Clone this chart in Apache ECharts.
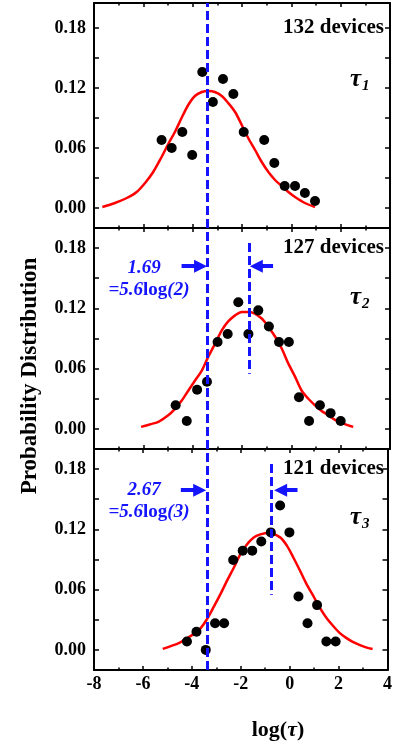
<!DOCTYPE html>
<html><head><meta charset="utf-8">
<script src="https://cdn.jsdelivr.net/npm/echarts@6/dist/echarts.min.js"></script>
<style>html,body{margin:0;padding:0;background:#fff}#c{width:395px;height:742px}</style>
</head><body><div id="c"></div>
<script>
// ---- data ----
const xTickValues = [-8, -6, -4, -2, 0, 2, 4];
const yTickValues = [0, 0.06, 0.12, 0.18];
const yAllTicks = [0, 0.03, 0.06, 0.09, 0.12, 0.15, 0.18];
const deviceLabels = ['132 devices', '127 devices', '121 devices'];
const tauSubs = ['1', '2', '3'];

// panel 1 (tau1) measured distribution
const p1X = [-5.26,-4.85,-4.42,-4.02,-3.61,-3.18,-2.77,-2.35,-1.93,-1.10,-0.69,-0.27,0.15,0.55,0.96];
const p1Y = [0.068,0.060,0.076,0.053,0.136,0.106,0.129,0.114,0.076,0.068,0.045,0.022,0.022,0.015,0.007];
const c1X = [-7.66,-7.15,-6.67,-6.27,-5.93,-5.60,-5.26,-4.99,-4.72,-4.45,-4.18,-3.91,-3.63,-3.37,-3.10,-2.82,-2.56,-2.28,-2.01,-1.75,-1.47,-1.20,-0.93,-0.66,-0.39,-0.12,0.15,0.55,0.96];
const c1Y = [0.001,0.005,0.010,0.016,0.025,0.036,0.051,0.064,0.076,0.090,0.103,0.112,0.116,0.117,0.116,0.112,0.105,0.096,0.083,0.070,0.058,0.046,0.036,0.028,0.022,0.016,0.011,0.005,0.001];

// panel 2 (tau2)
const p2X = [-4.69,-4.24,-3.82,-3.42,-2.99,-2.58,-2.15,-1.74,-1.34,-0.91,-0.50,-0.10,0.31,0.72,1.16,1.59,2.00];
const p2Y = [0.0236,0.0079,0.039,0.047,0.0866,0.0945,0.126,0.0945,0.118,0.102,0.0866,0.0866,0.0315,0.0079,0.0236,0.0157,0.0079];
const c2X = [-6.09,-5.66,-5.39,-4.99,-4.72,-4.45,-4.18,-3.91,-3.63,-3.37,-3.09,-2.82,-2.56,-2.28,-2.01,-1.68,-1.20,-0.93,-0.66,-0.39,-0.12,0.15,0.42,0.69,0.96,1.23,1.50,1.77,2.04,2.31,2.51];
const c2Y = [0.002,0.005,0.007,0.0135,0.020,0.028,0.038,0.048,0.058,0.0717,0.085,0.098,0.107,0.113,0.1165,0.1165,0.110,0.1015,0.092,0.080,0.065,0.052,0.038,0.030,0.0235,0.0178,0.0135,0.009,0.006,0.0035,0.002];

// panel 3 (tau3)
const p3X = [-4.20,-3.81,-3.43,-3.05,-2.68,-2.31,-1.92,-1.53,-1.16,-0.77,-0.39,-0.01,0.36,0.73,1.12,1.50,1.88];
const p3Y = [0.0083,0.018,0.0,0.0266,0.0266,0.0895,0.0988,0.0988,0.108,0.117,0.1437,0.117,0.0532,0.0266,0.0446,0.0083,0.0083];
const c3X = [-5.19,-4.51,-4.18,-3.91,-3.63,-3.37,-3.10,-2.82,-2.56,-2.28,-2.01,-1.75,-1.47,-1.20,-0.87,-0.39,-0.12,0.15,0.42,0.69,0.96,1.23,1.50,1.77,2.04,2.31,2.58,2.85,3.12,3.39];
const c3Y = [0.001,0.007,0.012,0.016,0.022,0.031,0.043,0.056,0.069,0.082,0.0955,0.105,0.112,0.115,0.1167,0.112,0.104,0.092,0.079,0.0655,0.054,0.042,0.032,0.024,0.017,0.012,0.008,0.005,0.0025,0.001];

// reference lines (log tau) and annotation values
const refX = -3.39;                 // tau1 peak, dashed line through all panels
const peakX = [null, -1.72, -0.75]; // tau2, tau3 peaks
const peakLineY = [0.055, 0.185];
const arrowY = [null, 0.162, 0.159];
const leftArrowX = [-4.45, -3.68];
const rightArrowX = [null, [-0.74, -1.42], [0.32, -0.37]];
const shiftTexts = [null, ['1.69', '(2)'], ['2.67', '(3)']];

// ---- chart ----
const FONT = '"Liberation Serif","Times New Roman",serif';
const BLUE = '#1414ff';
const pts = (xs, ys) => xs.map((x, i) => [x, ys[i]]);
const grids = [
  {left: 94, right: 5, top: 3, height: 225},
  {left: 94, right: 5, top: 228, height: 221},
  {left: 94, right: 5, top: 449, height: 221}
];
const yMax = [0.205, 0.2, 0.2];
const axisLine = {show: true, onZero: false, lineStyle: {color: '#000', width: 2}};
const xAxes = [], yAxes = [];
for (let i = 0; i < 3; i++) {
  ['bottom', 'top'].forEach(pos => xAxes.push({
    gridIndex: i, type: 'value', position: pos, min: -8, max: 4, interval: 2,
    axisLine, splitLine: {show: false},
    axisTick: {show: true, inside: true, length: 4, lineStyle: {color: '#000', width: 1.5}},
    minorTick: {show: true, splitNumber: 2, length: 2.5, lineStyle: {color: '#000', width: 1.5}},
    minorSplitLine: {show: false},
    axisLabel: {show: pos === 'bottom' && i === 2, customValues: xTickValues, margin: 5,
      fontFamily: FONT, fontWeight: 'bold', fontSize: 18, color: '#000'}
  }));
  ['left', 'right'].forEach(pos => yAxes.push({
    gridIndex: i, type: 'value', position: pos, min: -0.02, max: yMax[i],
    axisLine, splitLine: {show: false},
    axisTick: {show: true, inside: true, length: 5, customValues: yAllTicks, lineStyle: {color: '#000', width: 1.5}},
    axisLabel: {show: pos === 'left', customValues: yTickValues, margin: 8,
      formatter: v => v.toFixed(2),
      fontFamily: FONT, fontWeight: 'bold', fontSize: 18, color: '#000'}
  }));
}
const pData = [pts(p1X, p1Y), pts(p2X, p2Y), pts(p3X, p3Y)];
const cData = [pts(c1X, c1Y), pts(c2X, c2Y), pts(c3X, c3Y)];
const dashStyle = {color: BLUE, width: 3, type: [9, 4]};
const series = [];
for (let i = 0; i < 3; i++) {
  const dashData = [{xAxis: refX}];
  if (peakX[i] !== null) dashData.push([{coord: [peakX[i], peakLineY[1]]}, {coord: [peakX[i], peakLineY[0]]}]);
  series.push({
    type: 'line', xAxisIndex: 2 * i, yAxisIndex: 2 * i, data: cData[i], smooth: 0.3,
    showSymbol: false, symbol: 'none', lineStyle: {color: '#ff0000', width: 2.5}, z: 3,
    animation: false,
    markLine: {silent: true, symbol: 'none', label: {show: false}, lineStyle: dashStyle,
      animation: false, z: 6, data: dashData}
  });
  const s = {
    type: 'scatter', xAxisIndex: 2 * i, yAxisIndex: 2 * i, data: pData[i], symbolSize: 10,
    itemStyle: {color: '#000', opacity: 1}, z: 4, animation: false
  };
  if (arrowY[i] !== null) {
    s.markLine = {silent: true, symbol: ['none', 'triangle'], symbolSize: 13, label: {show: false},
      lineStyle: {color: BLUE, width: 4, type: 'solid', opacity: 1}, itemStyle: {color: BLUE},
      animation: false, z: 7,
      data: [
        [{coord: [leftArrowX[0], arrowY[i]]}, {coord: [leftArrowX[1], arrowY[i]]}],
        [{coord: [rightArrowX[i][0], arrowY[i]]}, {coord: [rightArrowX[i][1], arrowY[i]]}]
      ]};
  }
  series.push(s);
}

const textCenters = [28, 248, 469];
const tauY = [80, 298, 518];
const graphic = [];
for (let i = 0; i < 3; i++) {
  graphic.push({type: 'text', x: 384, y: textCenters[i], style: {text: deviceLabels[i], align: 'right', verticalAlign: 'middle',
    font: 'bold 21px ' + FONT, fill: '#000'}});
  graphic.push({type: 'text', x: 350, y: tauY[i], style: {text: 'τ', align: 'left', verticalAlign: 'middle',
    font: 'italic bold 25px ' + FONT, fill: '#000'}});
  graphic.push({type: 'text', x: 362, y: tauY[i] + 6, style: {text: tauSubs[i], align: 'left', verticalAlign: 'middle',
    font: 'italic bold 15px ' + FONT, fill: '#000'}});
  if (shiftTexts[i]) {
    const yb = i === 1 ? 268 : 490;
    graphic.push({type: 'text', x: 144, y: yb, style: {text: shiftTexts[i][0], align: 'center', verticalAlign: 'middle',
      font: 'italic bold 19px ' + FONT, fill: BLUE}});
    graphic.push({type: 'text', x: 149, y: yb + 22, style: {
      text: '{a|=5.6}{b|log}{a|' + shiftTexts[i][1] + '}', align: 'center', verticalAlign: 'middle',
      rich: {a: {font: 'italic bold 19px ' + FONT, fill: BLUE}, b: {font: 'bold 19px ' + FONT, fill: BLUE}}}});
  }
}
graphic.push({type: 'text', x: 278, y: 730, style: {text: '{a|log(}{b|τ}{a|)}', align: 'center', verticalAlign: 'middle',
  rich: {a: {font: 'bold 22px ' + FONT, fill: '#000'}, b: {font: 'italic bold 22px ' + FONT, fill: '#000'}}}});
graphic.push({type: 'text', x: 30, y: 376, rotation: Math.PI / 2, style: {text: 'Probability Distribution',
  align: 'center', verticalAlign: 'middle', font: 'bold 23px ' + FONT, fill: '#000'}});

const chart = echarts.init(document.getElementById('c'), null, {renderer: 'canvas'});
chart.setOption({animation: false, grid: grids, xAxis: xAxes, yAxis: yAxes, series, graphic});
</script></body></html>
